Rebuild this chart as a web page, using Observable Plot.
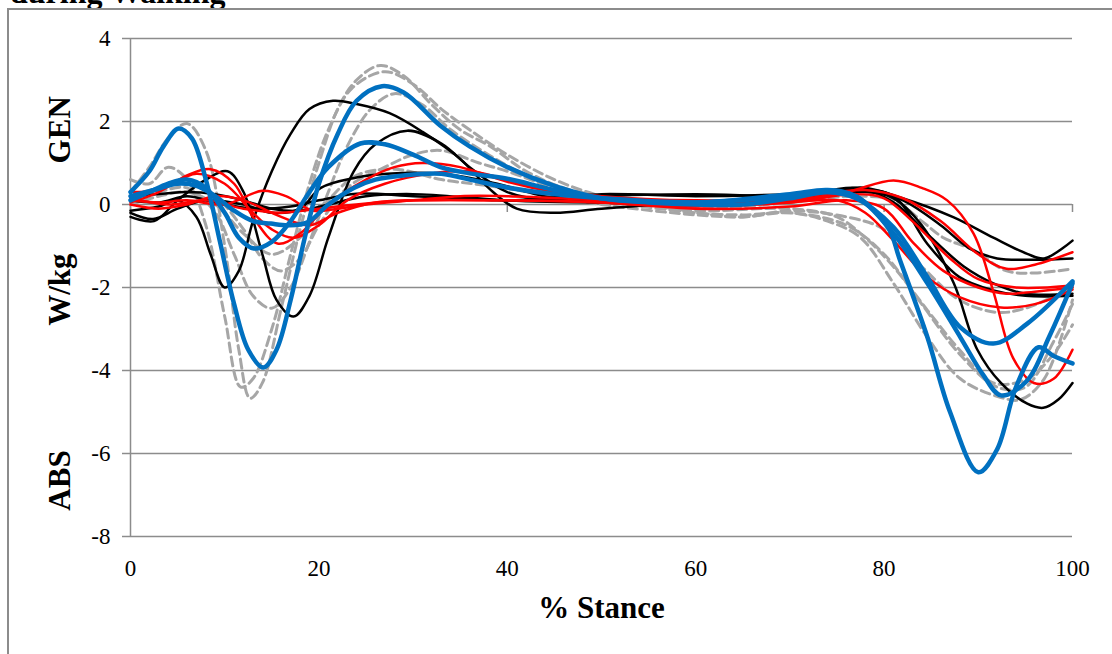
<!DOCTYPE html>
<html><head><meta charset="utf-8">
<script src="https://cdn.jsdelivr.net/npm/d3@7"></script>
<script src="https://cdn.jsdelivr.net/npm/@observablehq/plot@0.6"></script>
<style>
html,body{margin:0;padding:0;background:#fff;overflow:hidden}
#wrap{position:relative;width:1112px;height:654px;overflow:hidden;font-family:"Liberation Serif","Times New Roman",serif}
#frame{position:absolute;left:7px;top:8px;width:1200px;height:700px;border-left:2px solid #8c8c8c;border-top:2px solid #8c8c8c}
#title{position:absolute;left:10px;top:-25px;font-weight:bold;font-size:32px;white-space:nowrap;line-height:34px}
#chart{position:absolute;left:0;top:0}
</style></head><body>
<div id="wrap"><div id="title">during Walking</div><div id="frame"></div><div id="chart"></div></div>
<script>
// ---- axis ticks & labels ----
const xTicks = [0, 20, 40, 60, 80, 100];
const yTicks = [-8, -6, -4, -2, 0, 2, 4];
const yLabels = [
  {y: 1.8, label: "GEN"},
  {y: -2.05, label: "W/kg"},
  {y: -6.65, label: "ABS"}
];
const xLabel = "% Stance";

// ---- black series [% stance, W/kg] ----
const black1 = [[0,-0.15],[3,-0.05],[5,0.1],[7,-0.3],[8.5,-1.2],[10,-2.0],[11.5,-1.6],[13,-0.4],[15,0.8],[17,1.7],[19,2.3],[21.5,2.5],[24,2.42],[27.5,2.2],[31,1.75],[35,1.1],[38,0.4],[41,-0.1],[45,-0.2],[50,-0.1],[60,0.05],[70,0.1],[77,0.35],[81,0.2],[84.6,-0.95],[88,-1.75],[91.6,-2.07],[95,-2.2],[100,-2.2]];
const black2 = [[0,-0.3],[2.5,-0.4],[5,0.1],[8,0.6],[10.3,0.8],[12,0.3],[14,-1.2],[15.5,-2.3],[17.3,-2.7],[19,-2.2],[21,-0.8],[23.7,0.8],[26,1.45],[29.4,1.78],[33,1.47],[36,0.9],[40,0.3],[45,0.1],[50,0.2],[60,0.25],[70,0.2],[78,0.3],[81,0.15],[84,-0.5],[87.4,-1.9],[89.9,-3.5],[92.4,-4.3],[95.2,-4.8],[96.9,-4.9],[98.5,-4.7],[100,-4.3]];
const black3 = [[0,-0.2],[2.4,-0.35],[5,-0.1],[8,0.1],[12,0],[15,-0.2],[18,-0.1],[20.2,0.4],[24,0.65],[27.2,0.74],[33,0.74],[38,0.55],[45,0.15],[50,0.05],[60,0],[70,0.1],[77.5,0.41],[81.7,0.17],[87.4,-0.31],[91.6,-0.8],[95.2,-1.19],[97,-1.3],[100,-0.87]];
const black4 = [[0,0.1],[3,0.05],[6,0.2],[9,0.05],[13,-0.1],[17,-0.05],[20,0.1],[24,0.26],[30,0.2],[35,0.15],[40,0.1],[50,0.25],[60,0.2],[70,0.25],[78,0.35],[82,0.1],[86,-0.5],[89,-1.05],[92,-1.3],[96,-1.33],[100,-1.3]];
const black5 = [[0,0.2],[3,0.25],[6,0.3],[9,0.25],[12,0.1],[15,-0.1],[18,-0.15],[21,0],[25,0.2],[30,0.25],[40,0.1],[50,0.05],[60,0.05],[70,0.15],[77,0.4],[81,0.05],[85,-0.8],[88.5,-1.5],[91.6,-1.9],[95,-2.15],[100,-2.15]];

// ---- red series ----
const red1 = [[0,0.05],[3,0.3],[6,0.7],[8.5,0.85],[11,0.5],[13,-0.3],[15.6,-0.94],[18,-0.7],[21,0],[25,0.6],[28,0.9],[31,1.0],[35,0.9],[40,0.55],[45,0.3],[50,0.15],[60,0.05],[70,0.1],[76,0.3],[81,0.58],[84,0.4],[86.7,0.1],[89.5,-0.7],[91.6,-2.1],[93.7,-3.7],[95.9,-4.3],[98,-4.2],[100,-3.5]];
const red2 = [[0,0.3],[3,0.35],[7,0.74],[10,0.5],[13,-0.2],[15,-0.6],[17.3,-0.8],[20,-0.5],[23,0.1],[27,0.5],[32,0.75],[36,0.8],[40,0.6],[45,0.35],[50,0.2],[60,0.1],[70,0.15],[78,0.35],[82,0.15],[86,-0.4],[90,-1.2],[93,-1.55],[96,-1.45],[100,-1.15]];
const red3 = [[0,0.1],[3,0.05],[6,0.1],[10,0],[14,0.33],[16.5,0.2],[19.4,-0.15],[22,-0.1],[25,0],[30,0.1],[35,0.2],[40,0.2],[50,0.1],[60,0],[70,0.05],[75,0.1],[78,-0.2],[81,-0.87],[84.6,-1.75],[88,-2.23],[92.4,-2.48],[96,-2.4],[100,-2.05]];
const red4 = [[0,0],[3,-0.1],[6,0],[9,0.2],[12,0.1],[16,-0.3],[19,-0.5],[22,-0.2],[26,0.05],[30,0.1],[40,0.1],[50,0.05],[60,-0.1],[70,-0.05],[76,0.1],[80,-0.1],[83,-0.9],[86.3,-1.6],[90,-2.0],[93,-2.15],[96,-2.1],[100,-2.0]];
const red5 = [[0,0.15],[4,0],[8,0.1],[12,-0.1],[16,-0.2],[20,-0.1],[24,0],[30,0.1],[40,0.1],[50,0.05],[60,-0.05],[70,0.05],[77,0.25],[80,0.15],[83,-0.4],[87,-1.3],[90,-1.8],[94,-2.0],[100,-1.95]];

// ---- grey dashed series ----
const grey1 = [[0,0.3],[2,0.9],[4,1.6],[6,1.95],[8,1.3],[10,-1.0],[11.5,-3.5],[12.7,-4.67],[14,-4.3],[16,-2.5],[18,-0.6],[20,1.0],[22,2.3],[24,3.0],[26.5,3.35],[29,3.1],[32,2.4],[35,1.8],[38.2,1.4],[42,0.8],[46,0.4],[50,0.2],[55,0.0],[60,-0.2],[65,-0.25],[70,-0.2],[74,-0.4],[77.5,-0.8],[81,-1.9],[84.6,-3.2],[88.1,-4.2],[92.4,-4.65],[94.5,-4.7],[97,-4.2],[100,-2.3]];
const grey2 = [[0,0.6],[2,0.5],[4,0.9],[6,0.6],[8,-0.5],[10,-2.7],[11.7,-4.4],[13,-4.2],[15,-3.0],[17,-1.2],[19,0.5],[21,1.8],[23.5,2.8],[27,3.2],[30,2.9],[33,2.3],[36,1.8],[40,1.2],[45,0.6],[50,0.2],[55,0],[60,-0.15],[70,-0.1],[75,-0.3],[78,-0.8],[81,-1.5],[84.6,-2.55],[88,-3.5],[91.6,-4.3],[95.2,-4.2],[98,-3.6],[100,-2.9]];
const grey3 = [[0,0.1],[3,0.3],[6,0.4],[9,-0.2],[11,-1.2],[13,-2.2],[15,-2.5],[17,-2.0],[19,-0.9],[21,0.3],[23,1.4],[25.5,2.3],[28,2.67],[31,2.4],[34,1.8],[38,1.2],[42,0.7],[46,0.35],[50,0.1],[60,-0.2],[65,-0.3],[70,-0.15],[76,-0.3],[80,-0.6],[84,-1.5],[88,-2.3],[92,-2.6],[95,-2.5],[100,-2.0]];
const grey4 = [[0,0.2],[3,0.4],[6,0.5],[9,0.2],[12,-0.6],[14,-1.3],[16,-1.6],[18,-1.3],[20,-0.5],[23,0.4],[27,0.9],[30,1.2],[33,1.3],[37,1.0],[40,0.8],[45,0.4],[50,0.15],[60,-0.1],[70,0.05],[77,0.2],[81,0.1],[84,-0.4],[86.3,-0.8],[89.5,-1.1],[93,-1.6],[96,-1.65],[100,-1.55]];
const grey5 = [[0,0.0],[3,0.2],[6,0.3],[9,0.0],[12,-0.7],[15,-1.2],[18,-0.8],[21,0.1],[24,0.7],[28,0.85],[33,0.6],[38,0.45],[45,0.2],[50,0],[60,-0.25],[65,-0.3],[70,-0.2],[76,-0.5],[80,-1.2],[84,-2.4],[88,-3.6],[92,-4.4],[95,-4.4],[98,-3.3],[100,-2.4]];

// ---- blue series ----
const blue1 = [[0,0.3],[2,0.8],[3.5,1.4],[5.1,1.83],[6.5,1.6],[8,0.6],[9.5,-0.9],[11,-2.4],[12.5,-3.5],[14.1,-3.93],[15.5,-3.5],[17,-2.3],[18.5,-0.8],[20,0.5],[22,1.7],[24,2.5],[26.7,2.85],[29,2.7],[32.9,1.9],[36,1.4],[40,0.9],[45,0.45],[50,0.15],[55,0.05],[60,0],[65,0],[70,0.15],[74,0.3],[77,0.2],[80.4,-0.55],[81.7,-1.35],[84.6,-3.2],[87,-5.0],[90,-6.45],[92,-5.9],[94,-4.4],[96.4,-3.44],[98,-3.65],[100,-3.83]];
const blue2 = [[0,0.1],[2,0.3],[4,0.5],[6,0.6],[8,0.4],[10,-0.2],[11.5,-0.8],[13.1,-1.06],[15,-0.9],[17,-0.4],[19,0.3],[21,0.9],[24.4,1.47],[27,1.45],[30,1.2],[32.9,0.9],[36,0.75],[40,0.62],[45,0.35],[50,0.15],[60,0.05],[70,0.25],[74,0.35],[77,0.2],[81,-0.7],[84.6,-1.9],[88.1,-3.2],[90.5,-4.1],[92.4,-4.6],[95.2,-4.24],[97.5,-3.2],[100,-1.9]];
const blue3 = [[0,0.2],[2.5,0.35],[5,0.5],[7,0.45],[9,0.2],[11,-0.15],[13,-0.4],[14.9,-0.46],[16.8,-0.5],[18.8,-0.43],[21,0],[23.7,0.4],[26,0.6],[29,0.7],[33,0.74],[36,0.6],[40,0.41],[45,0.25],[50,0.15],[60,0.05],[70,0.2],[74,0.3],[77,0.15],[81,-0.55],[84.6,-1.75],[88.1,-2.96],[91.6,-3.35],[95.2,-2.87],[100,-1.85]];

const toRows = (groups) => groups.flatMap(([name, pts]) => pts.map(([x, y]) => ({series: name, x, y})));
const blackRows = toRows([["b1", black1], ["b2", black2], ["b3", black3], ["b4", black4], ["b5", black5]]);
const redRows = toRows([["r1", red1], ["r2", red2], ["r3", red3], ["r4", red4], ["r5", red5]]);
const greyRows = toRows([["g1", grey1], ["g2", grey2], ["g3", grey3], ["g4", grey4], ["g5", grey5]]);
const blueRows = toRows([["u1", blue1], ["u2", blue2], ["u3", blue3]]);

const gridColor = "#8c8c8c";
const chart = Plot.plot({
  width: 1112, height: 654,
  marginLeft: 130, marginRight: 40, marginTop: 38, marginBottom: 118,
  x: {domain: [0, 100]},
  y: {domain: [-8, 4]},
  style: {fontFamily: '"Liberation Serif", "Times New Roman", serif', fontSize: "23px", color: "#000", background: "transparent", overflow: "visible"},
  marks: [
    Plot.gridY(yTicks, {stroke: gridColor, strokeOpacity: 1, strokeWidth: 1.5}),
    Plot.ruleX([0], {stroke: gridColor, strokeWidth: 1.5}),
    Plot.ruleX(xTicks, {x: d => d, y1: 0, y2: 0, insetTop: 0, insetBottom: -8, stroke: gridColor, strokeWidth: 1.5}),
    Plot.axisY(yTicks, {tickSize: 8, tickPadding: 12, stroke: gridColor, strokeWidth: 1.5, strokeOpacity: 1, fontSize: 23, label: null, tickFormat: d => String(d)}),
    Plot.axisX(xTicks, {tickSize: 0, tickPadding: 23, fontSize: 23, label: null, tickFormat: d => String(d)}),
    Plot.line(greyRows, {x: "x", y: "y", z: "series", stroke: "#a6a6a6", strokeWidth: 3, strokeDasharray: "9,5", curve: "catmull-rom"}),
    Plot.line(blackRows, {x: "x", y: "y", z: "series", stroke: "#000", strokeWidth: 2.5, curve: "catmull-rom"}),
    Plot.line(redRows, {x: "x", y: "y", z: "series", stroke: "#ff0000", strokeWidth: 2.5, curve: "catmull-rom"}),
    Plot.line(blueRows, {x: "x", y: "y", z: "series", stroke: "#0070c0", strokeWidth: 4.5, curve: "catmull-rom"}),
    Plot.text(yLabels, {frameAnchor: "left", y: "y", text: "label", dx: -70, rotate: -90, fontWeight: "bold", fontSize: 31, textAnchor: "middle", lineAnchor: "middle"}),
    Plot.text([xLabel], {frameAnchor: "bottom", text: d => d, dy: 72, fontWeight: "bold", fontSize: 31, textAnchor: "middle", lineAnchor: "middle"})
  ]
});
document.getElementById("chart").appendChild(chart);
</script>
</body></html>
